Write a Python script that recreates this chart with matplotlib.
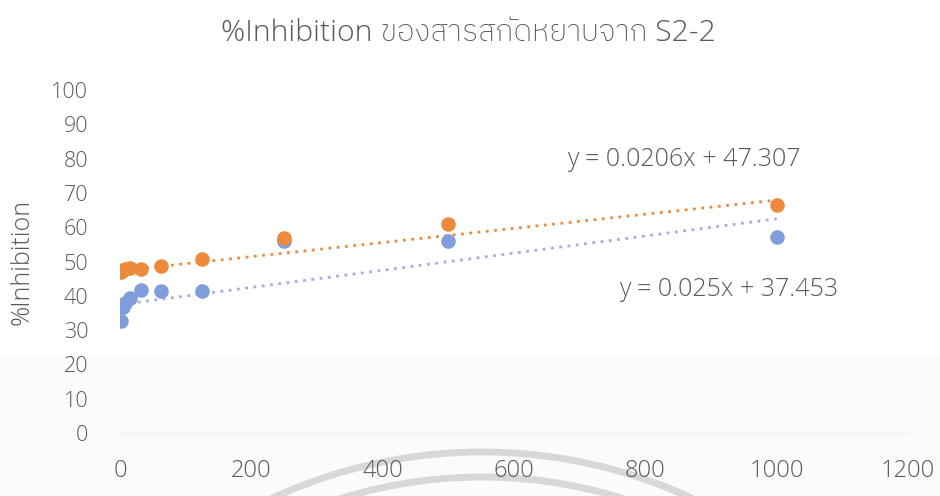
import matplotlib
matplotlib.use("Agg")
from matplotlib import pyplot as plt
from matplotlib.patches import Arc, Rectangle
from matplotlib.transforms import IdentityTransform
import numpy as np

# concentration (x) and %inhibition for the two series
conc = [1.95, 3.9, 7.8, 15.6, 31.25, 62.5, 125, 250, 500, 1000]
inhib_orange = [47.0, 47.5, 47.8, 48.0, 47.8, 48.7, 50.7, 56.8, 61.0, 66.5]
inhib_blue = [32.6, 36.8, 38.0, 39.4, 41.7, 41.5, 41.4, 56.0, 56.0, 57.1]

# linear trendlines as printed on the chart
fit_orange = (0.0206, 47.307)
fit_blue = (0.025, 37.453)

title = "%Inhibition ของสารสกัดหยาบจาก S2-2"
ylabel = "%Inhibition"
xticks = [0, 200, 400, 600, 800, 1000, 1200]
yticks = [0, 10, 20, 30, 40, 50, 60, 70, 80, 90, 100]

FONT = ['Open Sans', 'IBM Plex Sans Thai', 'DejaVu Sans']
TXT = '#595959'
ORANGE = '#ED8A3C'
BLUE = '#7F9DDB'

plt.rcParams['font.family'] = FONT
plt.rcParams['font.weight'] = 'light'

fig = plt.figure(figsize=(9.4, 4.96), dpi=100)
fig.patch.set_facecolor('white')

# faint grey band and watermark arcs at the bottom of the scan (pixel coords)
fig.patches.append(Rectangle((0, 0), 1, 0.28, transform=fig.transFigure,
                             facecolor='#fbfbfb', edgecolor='none', zorder=-5))
for r in (500, 475):
    arc = Arc((482, 496 - 952), 2 * r, 2 * r, theta1=50, theta2=130,
              color='#d8d8d8', lw=5, zorder=-4)
    arc.set_transform(IdentityTransform())
    fig.patches.append(arc)

ax = fig.add_axes([0.1277, 0.127, 0.8383, 0.6915])
ax.set_facecolor('none')

ax.scatter(conc, inhib_orange, s=110, color=ORANGE, zorder=3, linewidths=0)
ax.scatter(conc, inhib_blue, s=110, color=BLUE, zorder=2, linewidths=0)

xs = np.array([min(conc), max(conc)])
ax.plot(xs, fit_orange[0] * xs + fit_orange[1], color=ORANGE, lw=2,
        linestyle=(0, (1, 2)), zorder=1)
ax.plot(xs, fit_blue[0] * xs + fit_blue[1], color='#A3ADE3', lw=2,
        linestyle=(0, (1, 2)), zorder=1)

ax.text(859, 79.6, "y = 0.0206x + 47.307", ha='center', va='center',
        fontsize=18, color=TXT)
ax.text(927, 41.7, "y = 0.025x + 37.453", ha='center', va='center',
        fontsize=18, color=TXT)

ax.set_xlim(0, 1200)
ax.set_ylim(0, 100)
ax.set_xticks(xticks)
ax.set_yticks(yticks)
ax.tick_params(axis='both', length=0, labelcolor=TXT)
ax.tick_params(axis='y', pad=23, labelsize=15.5)
ax.tick_params(axis='x', pad=19, labelsize=17)

for side in ('top', 'right', 'left'):
    ax.spines[side].set_visible(False)
ax.spines['bottom'].set_color('#eeeeee')

fig.text(0.498, 0.933, title, ha='center', va='center', fontsize=21.7, color=TXT)
fig.text(0.024, 0.472, ylabel, ha='center', va='center', rotation=90,
         fontsize=18, color=TXT)

fig.savefig("out.png", dpi=100)
